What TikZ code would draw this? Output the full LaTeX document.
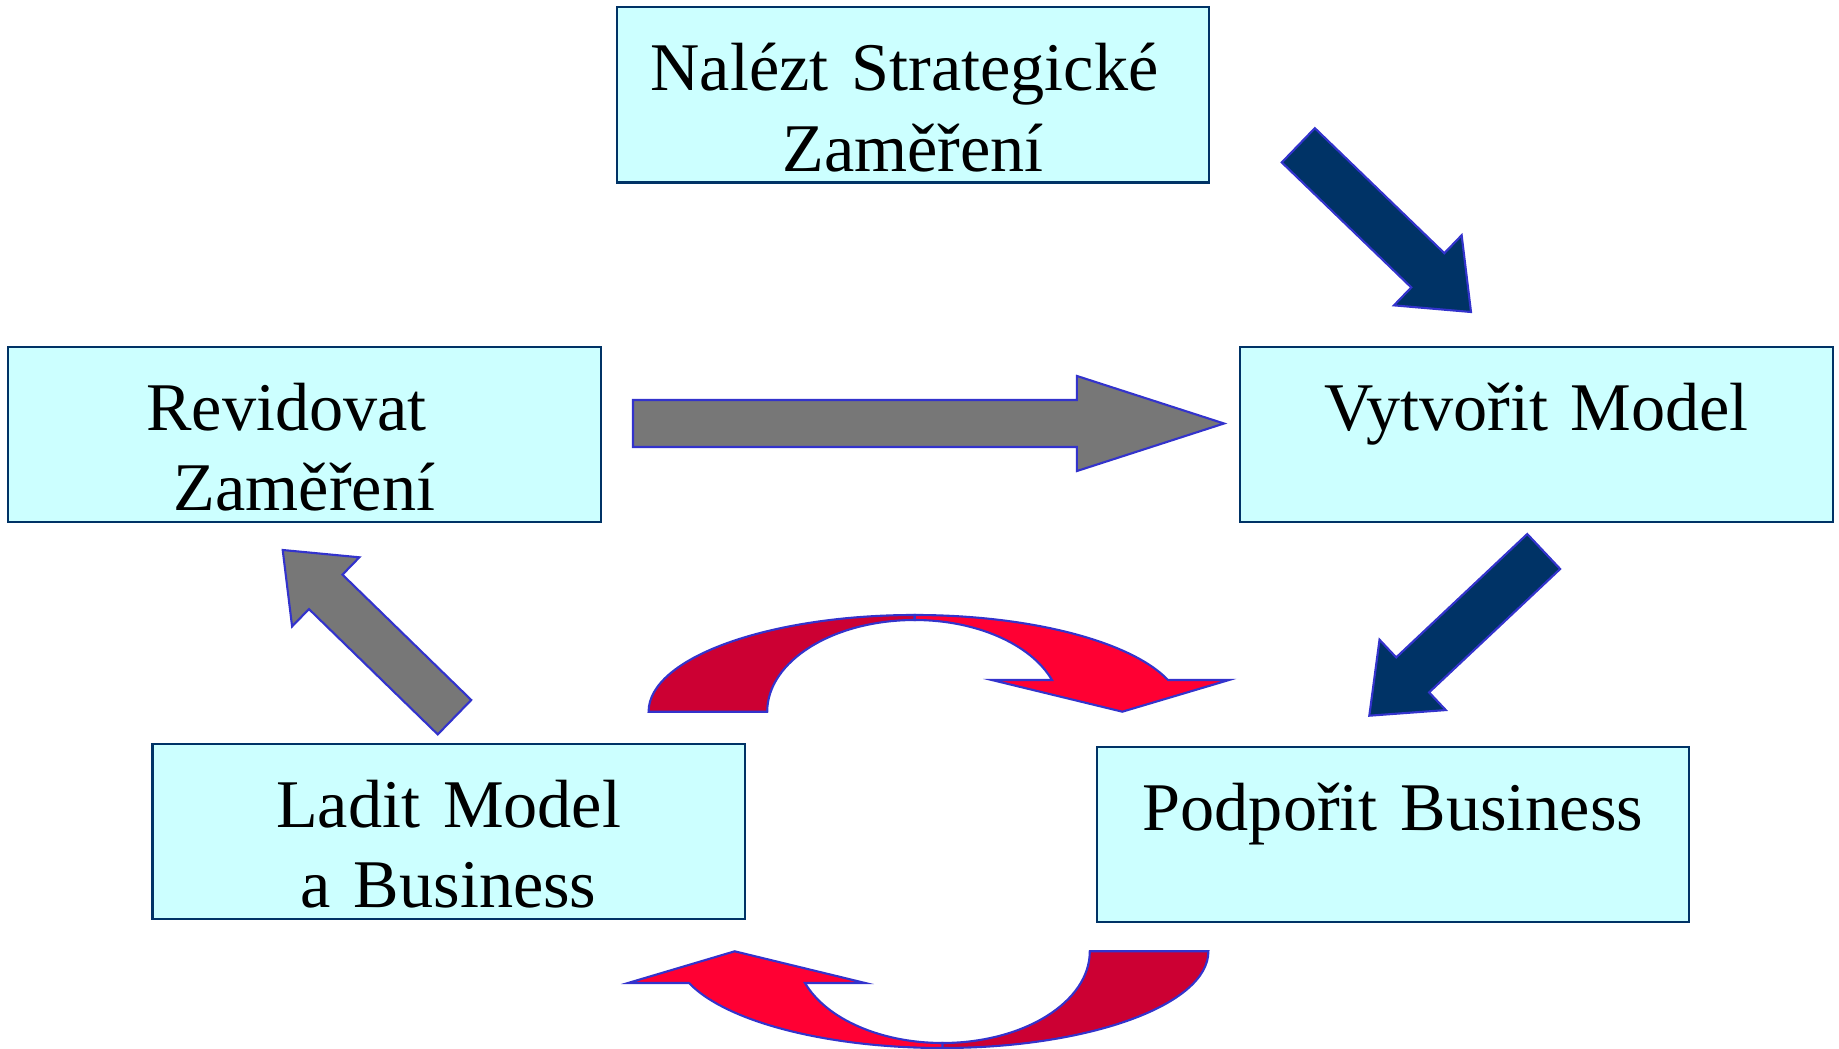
\documentclass[tikz,border=0pt]{standalone}
\usepackage{fontspec}
\setmainfont{Liberation Serif}
\usepackage{xcolor}
\usetikzlibrary{calc}

\definecolor{boxfill}{HTML}{CCFFFF}
\definecolor{boxline}{HTML}{003366}
\definecolor{navyfill}{HTML}{003366}
\definecolor{greyfill}{HTML}{777777}
\definecolor{edgeblue}{HTML}{3333CC}
\definecolor{redback}{HTML}{CC0033}
\definecolor{redfront}{HTML}{FF0033}

\tikzset{
  stage/.style={draw=boxline, line width=0.6pt, fill=boxfill, inner sep=0pt,
    text width=5.92cm, align=center, text height=0.834cm, text depth=0.916cm,
    font=\fontsize{19.4}{22.8}\selectfont},
  blockarrow/.style={draw=edgeblue, line width=0.6pt, line join=miter},
}

% #1 style, #2 tail, #3 tip, #4 half shaft, #5 half head, #6 head length
\newcommand{\blockarrow}[6][]{%
  \coordinate (hb) at ($(#3)!#6!(#2)$);
  \draw[blockarrow,#1] ($(#2)!#4!90:(#3)$) -- ($(hb)!#4!-90:(#2)$) -- ($(hb)!#5!-90:(#2)$)
    -- (#3) -- ($(hb)!#5!90:(#2)$) -- ($(hb)!#4!90:(#2)$) -- ($(#2)!#4!-90:(#3)$) -- cycle;
}

\newcommand{\redbend}[1]{%
  \begin{scope}[#1]
  \draw[blockarrow,fill=redback] (648.6,711.7) .. controls (648.6,658.3) and (767.8,615) .. (914.7,615)
    -- (914.7,620) .. controls (833.2,620) and (767.2,661.1) .. (767.2,711.7) -- cycle;
  \draw[blockarrow,fill=redfront] (914.7,615) .. controls (1029.1,615) and (1130.6,641) .. (1168,680)
    -- (1229,680) -- (1122.3,711.7) -- (991.8,680) -- (1052,680)
    .. controls (1030.8,644) and (976.1,620) .. (914.7,620) -- cycle;
  \end{scope}
}

\begin{document}
\begin{tikzpicture}[x=0.01cm,y=-0.01cm]
\useasboundingbox (0,0) rectangle (1839,1049);

\node[stage] (strat) at (913,95) {Nalézt Strategické\kern0.17cm\\ Zaměření};
\node[stage] (revid) at (304.5,434.5) {Revidovat\kern0.36cm\\ Zaměření};
\node[stage] (model) at (1536.5,434.5) {Vytvořit Model};
\node[stage] (ladit) at (448.7,831.5) {Ladit Model\\ a Business};
\node[stage] (podp) at (1393,834.5) {Podpořit Business};

\coordinate (revtail) at (633,423.5);
\coordinate (revtip) at (1224,423.5);
\coordinate (strattail) at (1298.3,145.3);
\coordinate (strattip) at (1471,312);
\coordinate (modeltail) at (1543.7,551.5);
\coordinate (modeltip) at (1369.3,715.7);
\coordinate (ladittail) at (454.5,717.2);
\coordinate (laditip) at (282.7,550);

\blockarrow[fill=greyfill]{revtail}{revtip}{0.235cm}{0.475cm}{1.47cm}
\blockarrow[fill=navyfill]{strattail}{strattip}{0.238cm}{0.487cm}{0.60cm}
\blockarrow[fill=navyfill]{modeltail}{modeltip}{0.24cm}{0.483cm}{0.595cm}
\blockarrow[fill=greyfill]{ladittail}{laditip}{0.24cm}{0.482cm}{0.60cm}

\redbend{}
\redbend{rotate around={180:(928.5,831.5)}}
\end{tikzpicture}
\end{document}
